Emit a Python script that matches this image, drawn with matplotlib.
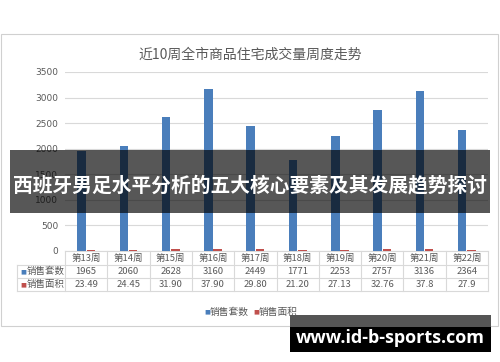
import matplotlib.pyplot as plt
from matplotlib.patches import Rectangle
from matplotlib.transforms import blended_transform_factory
import numpy as np

plt.rcParams['font.family'] = ['Noto Sans CJK SC', 'DejaVu Sans']

weeks = ["第13周", "第14周", "第15周", "第16周", "第17周",
         "第18周", "第19周", "第20周", "第21周", "第22周"]
units_sold = [1965, 2060, 2628, 3160, 2449, 1771, 2253, 2757, 3136, 2364]
area_sold = [23.49, 24.45, 31.90, 37.90, 29.80, 21.20, 27.13, 32.76, 37.8, 27.9]
area_labels = ["23.49", "24.45", "31.90", "37.90", "29.80",
               "21.20", "27.13", "32.76", "37.8", "27.9"]
series_names = ["销售套数", "销售面积"]
yticks = [0, 500, 1000, 1500, 2000, 2500, 3000, 3500]

blue = "#4a7ebb"
red = "#c0504d"
grey_txt = "#595959"
grid_c = "#d9d9d9"

W, H = 500, 362
fig = plt.figure(figsize=(W / 100, H / 100), dpi=100)

def fx(px):
    return px / W

def fy(py):
    return 1 - py / H

# chart panel
fig.patches.append(Rectangle((fx(1), fy(326)), fx(497), (326 - 34) / H,
                             transform=fig.transFigure, facecolor="white",
                             edgecolor="#d0d0d0", lw=0.8, zorder=-5))

ax = fig.add_axes([fx(65), fy(251), fx(423), (251 - 72) / H])
x = np.arange(len(weeks))
ax.bar(x - 0.11, units_sold, width=0.2, color=blue, zorder=3)
ax.bar(x + 0.11, area_sold, width=0.2, color=red, zorder=3)
ax.set_xlim(-0.5, len(weeks) - 0.5)
ax.set_ylim(0, 3500)
ax.set_yticks(yticks)
ax.set_yticklabels([str(v) for v in yticks], fontsize=6.5, color=grey_txt,
                   family="DejaVu Sans")
ax.tick_params(axis="y", length=0, pad=5)
ax.set_xticks([])
ax.grid(axis="y", color=grid_c, lw=0.8, zorder=0)
for s in ["top", "right", "left"]:
    ax.spines[s].set_visible(False)
ax.spines["bottom"].set_color(grid_c)
ax.patch.set_alpha(0)

fig.text(0.5, fy(55), "近10周全市商品住宅成交量周度走势", ha="center",
         va="center", fontsize=10, color=grey_txt)

# data table under the axis
tr = blended_transform_factory(ax.transData, fig.transFigure)
lab_left = -0.5 - (65 - 17) / 42.3
rows_y = [251, 265, 278, 291]
for i in range(len(weeks) + 1):
    ax.plot([i - 0.5, i - 0.5], [fy(rows_y[0]), fy(rows_y[-1])], color=grid_c,
            lw=0.8, transform=tr, clip_on=False)
ax.plot([lab_left, lab_left], [fy(rows_y[1]), fy(rows_y[-1])], color=grid_c,
        lw=0.8, transform=tr, clip_on=False)
for yy in rows_y[1:]:
    ax.plot([lab_left, len(weeks) - 0.5], [fy(yy), fy(yy)], color=grid_c,
            lw=0.8, transform=tr, clip_on=False)

for i, w in enumerate(weeks):
    ax.text(i, fy(258), w, ha="center", va="center", fontsize=6.8,
            color=grey_txt, transform=tr)
    ax.text(i, fy(271.5), str(units_sold[i]), ha="center", va="center",
            fontsize=6.8, color=grey_txt, transform=tr)
    ax.text(i, fy(284.5), area_labels[i], ha="center", va="center",
            fontsize=6.8, color=grey_txt, transform=tr)

for name, col, yy in [(series_names[0], blue, 271.5), (series_names[1], red, 284.5)]:
    ax.text(lab_left + 0.08, fy(yy), "■", ha="left", va="center", fontsize=4.5,
            color=col, transform=tr, family="DejaVu Sans")
    ax.text(lab_left + 0.22, fy(yy), name, ha="left", va="center", fontsize=6.8,
            color=grey_txt, transform=tr)

# legend
fig.text(fx(204), fy(312), "■", ha="left", va="center", fontsize=4.5,
         color=blue, family="DejaVu Sans")
fig.text(fx(210), fy(312), series_names[0], ha="left", va="center",
         fontsize=7, color=grey_txt)
fig.text(fx(253), fy(312), "■", ha="left", va="center", fontsize=4.5,
         color=red, family="DejaVu Sans")
fig.text(fx(259), fy(312), series_names[1], ha="left", va="center",
         fontsize=7, color=grey_txt)

# overlay banner
fig.patches.append(Rectangle((fx(10), fy(213)), fx(480), (213 - 150) / H,
                             transform=fig.transFigure, facecolor="black",
                             alpha=0.66, lw=0, zorder=10))
fig.text(fx(250), fy(186), "西班牙男足水平分析的五大核心要素及其发展趋势探讨",
         ha="center", va="center", fontsize=14.2, color="white",
         fontweight="bold", zorder=11)

# site watermark
fig.patches.append(Rectangle((fx(290), fy(327)), fx(201), (327 - 315) / H,
                             transform=fig.transFigure, facecolor="#555555",
                             lw=0, zorder=10))
fig.patches.append(Rectangle((fx(290), fy(352)), fx(201), (352 - 327) / H,
                             transform=fig.transFigure, facecolor="black",
                             lw=0, zorder=10))
fig.text(fx(390), fy(338), "www.id-b-sports.com", ha="center", va="center",
         fontsize=13, color="white", fontweight="bold", zorder=11,
         family="Open Sans")

fig.savefig("out.png", dpi=100)
